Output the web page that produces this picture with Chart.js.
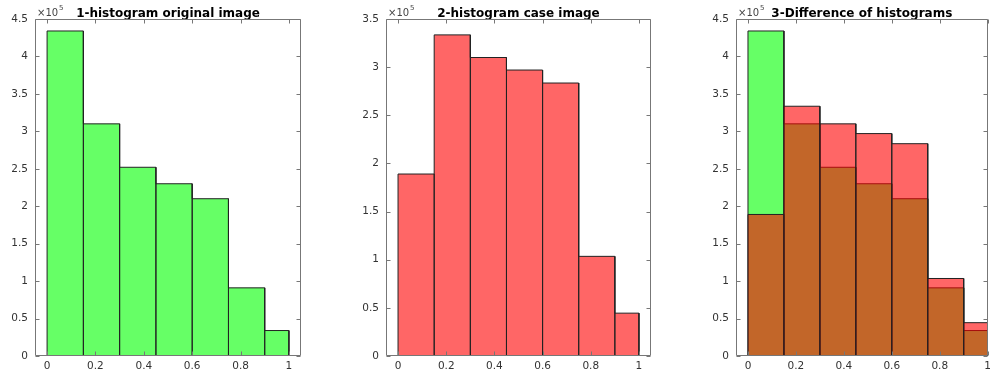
<!DOCTYPE html>
<html><head><meta charset="utf-8">
<script src="https://cdn.jsdelivr.net/npm/chart.js@4/dist/chart.umd.min.js"></script>
<style>
html,body{margin:0;padding:0;background:#fff;}
#wrap{position:relative;width:995px;height:377px;overflow:hidden;background:#fff;}
canvas{position:absolute;top:0;}
</style></head><body>
<div id="wrap">
<canvas id="c1" width="305" height="377" style="left:0px"></canvas>
<canvas id="c2" width="304" height="377" style="left:351px"></canvas>
<canvas id="c3" width="294" height="377" style="left:701px"></canvas>
</div>
<script>
// ---- data ----
const binEdges = [0, 0.15, 0.3, 0.45, 0.6, 0.75, 0.9, 1.0];
const originalCounts = [434000, 310000, 252000, 230000, 210000, 91000, 34000];
const caseCounts = [189000, 333500, 310000, 297000, 283500, 103500, 44500];
const xTickValues = [0, 0.2, 0.4, 0.6, 0.8, 1];
const yTicksA = [0, 50000, 100000, 150000, 200000, 250000, 300000, 350000, 400000, 450000];
const yTicksB = [0, 50000, 100000, 150000, 200000, 250000, 300000, 350000];
const titles = ['1-histogram original image', '2-histogram case image', '3-Difference of histograms'];
const exponentBase = '\u00d710';
const exponentPow = '5';

const GREEN = 'rgba(0,255,0,0.6)';
const RED = 'rgba(255,0,0,0.6)';
const EDGE = '#222';

function outline(edges, counts) {
  const pts = [];
  counts.forEach((c, i) => {
    pts.push({x: edges[i], y: 0}, {x: edges[i], y: c}, {x: edges[i + 1], y: c}, {x: edges[i + 1], y: 0});
  });
  return pts;
}
function histDataset(counts, color) {
  return {
    data: outline(binEdges, counts),
    fill: 'origin',
    backgroundColor: color,
    borderColor: EDGE,
    borderWidth: 1,
    pointRadius: 0,
    tension: 0
  };
}

const frame = {
  id: 'matFrame',
  afterDatasetsDraw(chart) {
    const {ctx, chartArea: a, scales: {x, y}} = chart;
    const L = Math.round(a.left) + 0.5, R = Math.round(a.right) - 0.5;
    const T = Math.round(a.top) + 0.5, B = Math.round(a.bottom) - 0.5;
    ctx.save();
    ctx.strokeStyle = '#777';
    ctx.lineWidth = 1;
    ctx.beginPath();
    ctx.moveTo(L, T); ctx.lineTo(R, T); ctx.lineTo(R, B); ctx.lineTo(L, B); ctx.closePath();
    const tl = 4;
    x.ticks.forEach(t => {
      const px = Math.round(x.getPixelForValue(t.value)) + 0.5;
      ctx.moveTo(px, B); ctx.lineTo(px, B - tl);
      ctx.moveTo(px, T); ctx.lineTo(px, T + tl);
    });
    y.ticks.forEach(t => {
      const py = Math.round(y.getPixelForValue(t.value)) + 0.5;
      ctx.moveTo(L, py); ctx.lineTo(L + tl, py);
      ctx.moveTo(R, py); ctx.lineTo(R - tl, py);
    });
    ctx.stroke();
    // exponent label
    ctx.fillStyle = '#444';
    ctx.textBaseline = 'alphabetic';
    ctx.font = '10px "DejaVu Sans"';
    ctx.fillText(exponentBase, a.left + 2, a.top - 3);
    const w = ctx.measureText(exponentBase).width;
    ctx.font = '7px "DejaVu Sans"';
    ctx.fillText(exponentPow, a.left + 2 + w + 1, a.top - 9);
    ctx.restore();
  }
};

const tickFont = {family: 'DejaVu Sans', size: 10.5};

function makeChart(id, datasets, yMax, yTicks, xMax, title) {
  return new Chart(document.getElementById(id), {
    type: 'line',
    data: {datasets},
    options: {
      responsive: false,
      animation: false,
      events: [],
      layout: {padding: {left: 0, right: 4, top: 0, bottom: 0}},
      plugins: {
        legend: {display: false},
        tooltip: {enabled: false},
        title: {
          display: true, text: title, fullSize: false, color: '#000',
          font: {family: 'DejaVu Sans', size: 12, weight: 'bold', lineHeight: '11px'},
          padding: {top: 8, bottom: 0}
        }
      },
      scales: {
        x: {
          type: 'linear', min: -0.05, max: xMax,
          grid: {display: false, drawTicks: false},
          border: {display: false},
          afterFit(s) { s.height = 21; },
          afterBuildTicks(s) { s.ticks = xTickValues.map(v => ({value: v})); },
          ticks: {padding: 4, color: '#333', font: tickFont, maxRotation: 0, autoSkip: false,
                  callback: v => String(v)}
        },
        y: {
          type: 'linear', min: 0, max: yMax,
          grid: {display: false, drawTicks: false},
          border: {display: false},
          afterFit(s) { s.width = 35; },
          afterBuildTicks(s) { s.ticks = yTicks.map(v => ({value: v})); },
          ticks: {padding: 7, color: '#333', font: tickFont, autoSkip: false,
                  callback: v => String(+(v / 1e5).toFixed(1))}
        }
      }
    },
    plugins: [frame]
  });
}

makeChart('c1', [histDataset(originalCounts, GREEN)], 450000, yTicksA, 1.05, titles[0]);
makeChart('c2', [histDataset(caseCounts, RED)], 350000, yTicksB, 1.05, titles[1]);
makeChart('c3', [histDataset(caseCounts, RED), histDataset(originalCounts, GREEN)], 450000, yTicksA, 1.0, titles[2]);
</script>
</body></html>
